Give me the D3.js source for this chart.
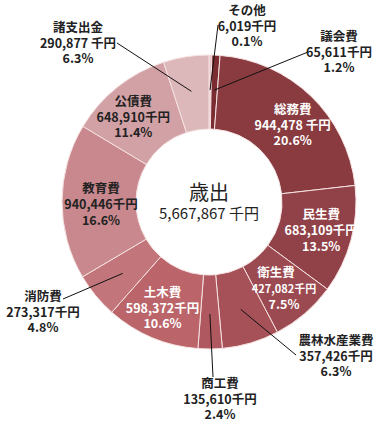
<!DOCTYPE html>
<html>
<head>
<meta charset="utf-8">
<script src="https://cdn.jsdelivr.net/npm/d3@7"></script>
<style>
  body { margin: 0; background: #fff; }
  text { font-family: "Noto Sans CJK JP", "Noto Sans", sans-serif; }
</style>
</head>
<body>
<svg id="chart" width="380" height="424"></svg>
<script>
// 歳出の内訳（千円）
const names = ["その他", "議会費", "総務費", "民生費", "衛生費", "農林水産業費", "商工費", "土木費", "消防費", "教育費", "公債費", "諸支出金"];
const amounts = [6019, 65611, 944478, 683109, 427082, 357426, 135610, 598372, 273317, 940446, 648910, 290877];
const percents = [0.1, 1.2, 20.6, 13.5, 7.5, 6.3, 2.4, 10.6, 4.8, 16.6, 11.4, 6.3];
// 図に描かれている扇の大きさ（%、画像から読み取り）
const drawnShare = [0.3, 0.9, 22.0, 11.9, 7.2, 6.25, 2.65, 10.3, 5.0, 17.1, 11.4, 5.0];
const total = 5667867;

const colors = ["#e6c3c5", "#7a2c31", "#893b40", "#914248", "#9c4a51", "#a65057", "#b05860", "#bb656a", "#c2757a", "#c8888d", "#d2a1a5", "#dcb8bb"];
const color = d3.scaleOrdinal(names, colors);

const svg = d3.select("#chart");
const cx = 209, cy = 202, rOuter = 147, rInner = 73;

const pie = d3.pie().sort(null).value((d, i) => drawnShare[i]);
const arcs = pie(names);
const arc = d3.arc().innerRadius(rInner).outerRadius(rOuter);
const midArc = d3.arc().innerRadius(112).outerRadius(112);

const g = svg.append("g").attr("transform", `translate(${cx},${cy})`);

g.selectAll("path")
  .data(arcs)
  .enter().append("path")
  .attr("d", arc)
  .attr("fill", d => color(d.data))
  .attr("stroke", "#f6e2e2")
  .attr("stroke-width", 1);

// ラベル：内側に置くものと引き出し線を使うもの
const inside = {
  "総務費": { dx: 6, dy: 4, fill: "#fff" },
  "民生費": { dx: 4, dy: 0, fill: "#fff" },
  "衛生費": { dx: 2, dy: 2, fill: "#fff", small: true, nameDx: -8 },
  "土木費": { dx: -3, dy: 3, fill: "#fff" },
  "教育費": { dx: 4, dy: 3, fill: "#222" },
  "公債費": { dx: -6, dy: 3, fill: "#222" }
};
const callout = {
  "その他": { x: 247, y: 26, lx: 218, ly: 25 },
  "議会費": { x: 339, y: 52, lx: 308, ly: 52 },
  "諸支出金": { x: 78, y: 43, lx: 117, ly: 43 },
  "消防費": { x: 43, y: 312, lx: 63, ly: 299 },
  "商工費": { x: 220, y: 399, lx: 213, ly: 377 },
  "農林水産業費": { x: 336, y: 356, lx: 296, ly: 355 }
};
const gap = new Set(["総務費", "諸支出金"]);
const fmt = d3.format(",");

arcs.forEach((d, i) => {
  const name = d.data;
  const [mx, my] = midArc.centroid(d);
  let x, y, fill = "#222", opt = {};
  if (inside[name]) {
    opt = inside[name];
    x = mx + opt.dx; y = my + opt.dy; fill = opt.fill;
  } else {
    const c = callout[name];
    x = c.x - cx; y = c.y - cy;
    g.append("line")
      .attr("x1", c.lx - cx).attr("y1", c.ly - cy)
      .attr("x2", mx).attr("y2", my)
      .attr("stroke", "#111").attr("stroke-width", 1);
  }
  const rows = [
    { t: name, dy: -16, dx: opt.nameDx || 0, size: 12.5 },
    { t: fmt(amounts[i]) + (gap.has(name) ? " " : "") + "千円", dy: 0, dx: 0, size: opt.small ? 11 : 12.5 },
    { t: percents[i].toFixed(1) + "%", dy: 15.5, dx: 0, size: 12.5 }
  ];
  rows.forEach(r => {
    g.append("text")
      .attr("x", x + r.dx).attr("y", y + r.dy + 4.5)
      .attr("text-anchor", "middle")
      .attr("fill", fill)
      .attr("font-weight", "bold")
      .attr("font-size", r.size)
      .text(r.t);
  });
});

// 中央の合計
g.append("text")
  .attr("text-anchor", "middle").attr("y", -2)
  .attr("font-size", 20).attr("fill", "#222")
  .text("歳出");
g.append("text")
  .attr("text-anchor", "middle").attr("y", 17)
  .attr("font-size", 15).attr("fill", "#222")
  .text(fmt(total) + " 千円");
</script>
</body>
</html>
